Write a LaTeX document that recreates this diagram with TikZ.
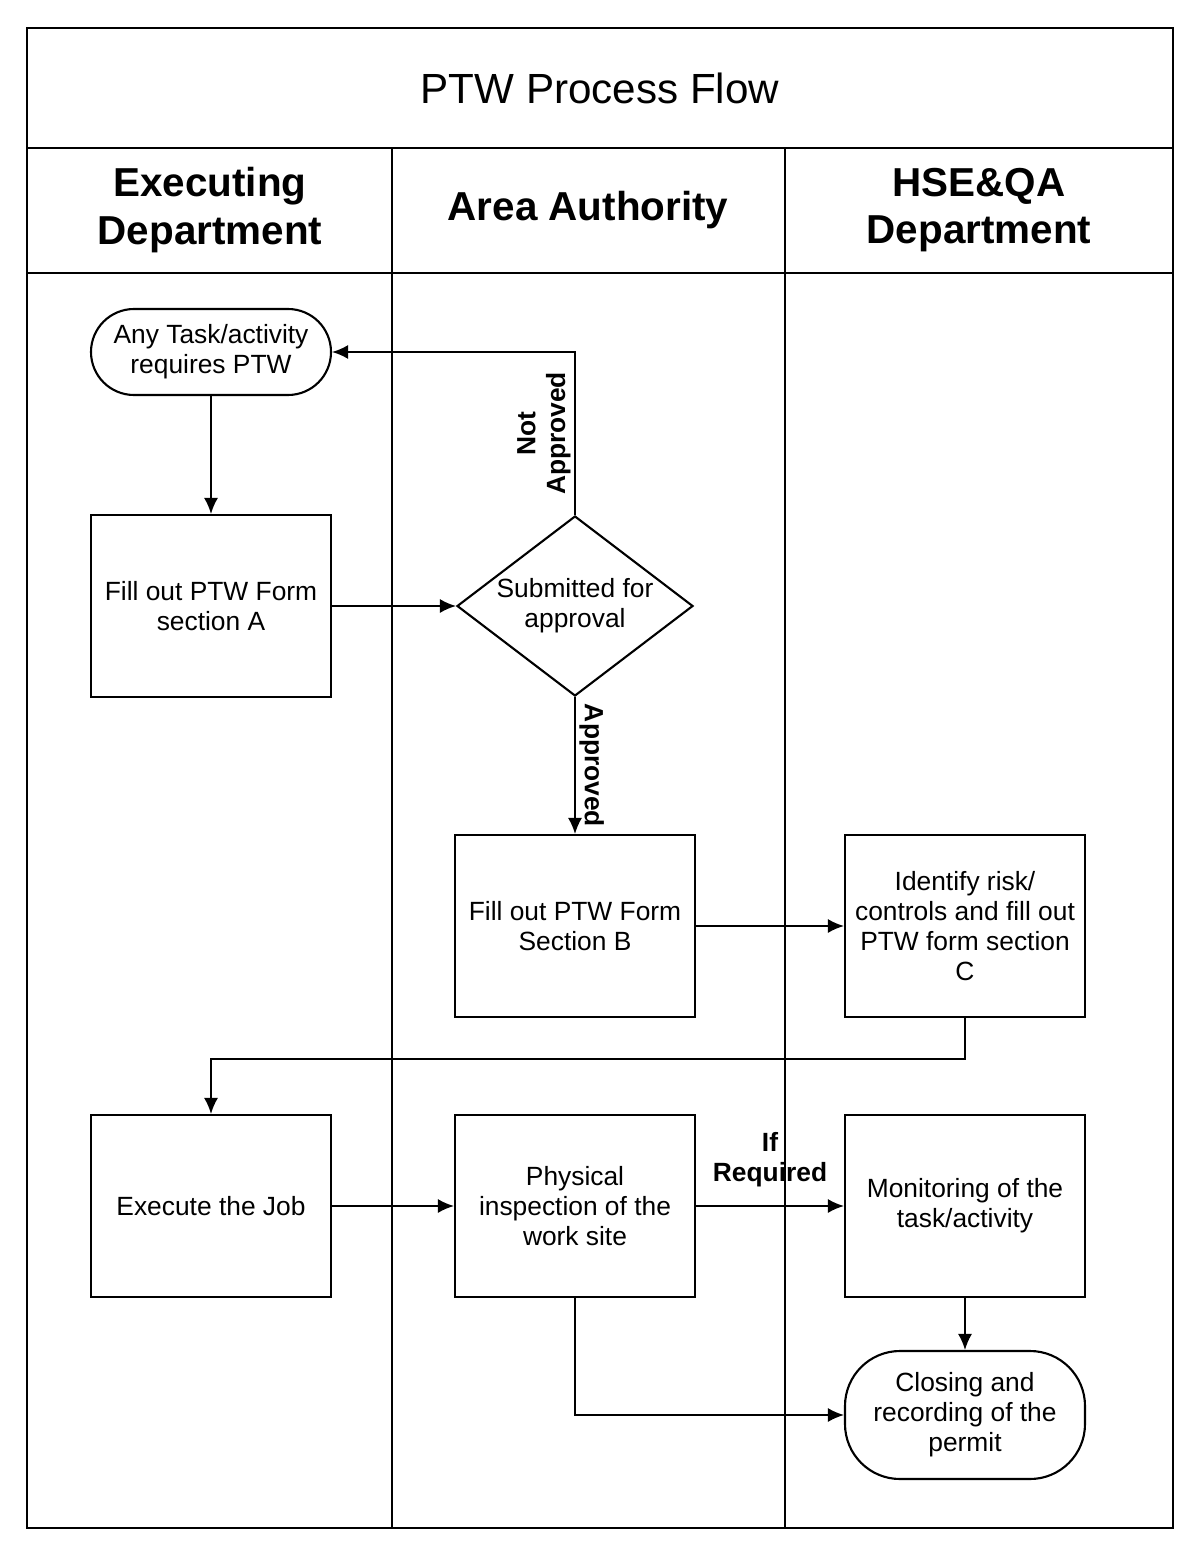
\documentclass[tikz,border=0pt]{standalone}
\usepackage{fontspec}
\setmainfont{Liberation Sans}
\usetikzlibrary{arrows.meta, shapes.geometric}

\begin{document}
\begin{tikzpicture}[x=0.2mm, y=-0.2mm]
    % Define colours
    \definecolor{borderColour}{HTML}{000000}

    % Define frame limits
    \def\frameLeft{27}
    \def\frameRight{1173}
    \def\frameTop{28}
    \def\frameBottom{1528}

    % Define styles
    \tikzset{
        frameLine/.style={draw=borderColour, line width=1.5pt},
        laneLine/.style={draw=borderColour, line width=0.8pt},
        headText/.style={font=\fontsize{23}{27}\selectfont\bfseries, align=center},
        titleText/.style={font=\fontsize{24}{28}\selectfont, align=center},
        stepBox/.style={draw=borderColour, line width=1.2pt, minimum width=4.8cm, minimum height=3.64cm, align=center, font=\fontsize{15}{17}\selectfont},
        termBox/.style={stepBox, rounded corners=0.86cm, minimum height=1.72cm},
        decisionBox/.style={stepBox, diamond, aspect=1.3, minimum width=4.72cm, minimum height=3.6cm, inner sep=0pt},
        flowArrow/.style={draw=borderColour, line width=1pt, -{Latex[length=3.2mm, width=2.8mm]}},
        edgeText/.style={font=\fontsize{15}{17}\selectfont\bfseries, align=center, inner sep=2pt}
    }

    \useasboundingbox (0,0) rectangle (1198,1545);

    % Draw the frame and the swim lanes
    \draw[frameLine] (\frameLeft,\frameTop) rectangle (\frameRight,\frameBottom);
    \draw[frameLine] (\frameLeft,148) -- (\frameRight,148);
    \draw[frameLine] (\frameLeft,273) -- (\frameRight,273);
    \draw[laneLine] (392,148) -- (392,\frameBottom);
    \draw[laneLine] (785,148) -- (785,\frameBottom);

    % Title and lane headers
    \node[titleText] (title) at (600,88) {PTW Process Flow};
    \node[headText] (execHead) at (210,210) {Executing\\Department};
    \node[headText] (areaHead) at (588,210) {Area Authority};
    \node[headText] (hseHead) at (979,210) {HSE\&QA\\Department};

    % Process steps
    \node[termBox] (anyTask) at (211,352) {Any Task/activity\\requires PTW};
    \node[stepBox] (fillA) at (211,606) {Fill out PTW Form\\section A};
    \node[decisionBox] (submitted) at (575,606) {Submitted for\\approval};
    \node[stepBox] (fillB) at (575,926) {Fill out PTW Form\\Section B};
    \node[stepBox] (identify) at (965,926) {Identify risk/\\controls and fill out\\PTW form section\\C};
    \node[stepBox] (execute) at (211,1206) {Execute the Job};
    \node[stepBox] (physical) at (575,1206) {Physical\\inspection of the\\work site};
    \node[stepBox] (monitoring) at (965,1206) {Monitoring of the\\task/activity};
    \node[termBox, minimum height=2.56cm, rounded corners=1.1cm] (closing) at (965,1415) {Closing and\\recording of the\\permit};

    % Draw the flow
    \draw[flowArrow] (anyTask) -- (fillA);
    \draw[flowArrow] (fillA) -- (submitted);
    \draw[flowArrow] (submitted.north) |- (anyTask.east)
        node[edgeText, pos=0.25, rotate=90, anchor=south] {Not\\Approved};
    \draw[flowArrow] (submitted) -- (fillB)
        node[edgeText, midway, rotate=-90, anchor=south] {Approved};
    \draw[flowArrow] (fillB) -- (identify);
    \draw[flowArrow] (identify.south) -- ++(0,41) -| (execute.north);
    \draw[flowArrow] (execute) -- (physical);
    \draw[flowArrow] (physical) -- (monitoring)
        node[edgeText, midway, above=0.3cm] {If\\Required};
    \draw[flowArrow] (monitoring) -- (closing);
    \draw[flowArrow] (physical.south) |- (closing.west);

\end{tikzpicture}
\end{document}
